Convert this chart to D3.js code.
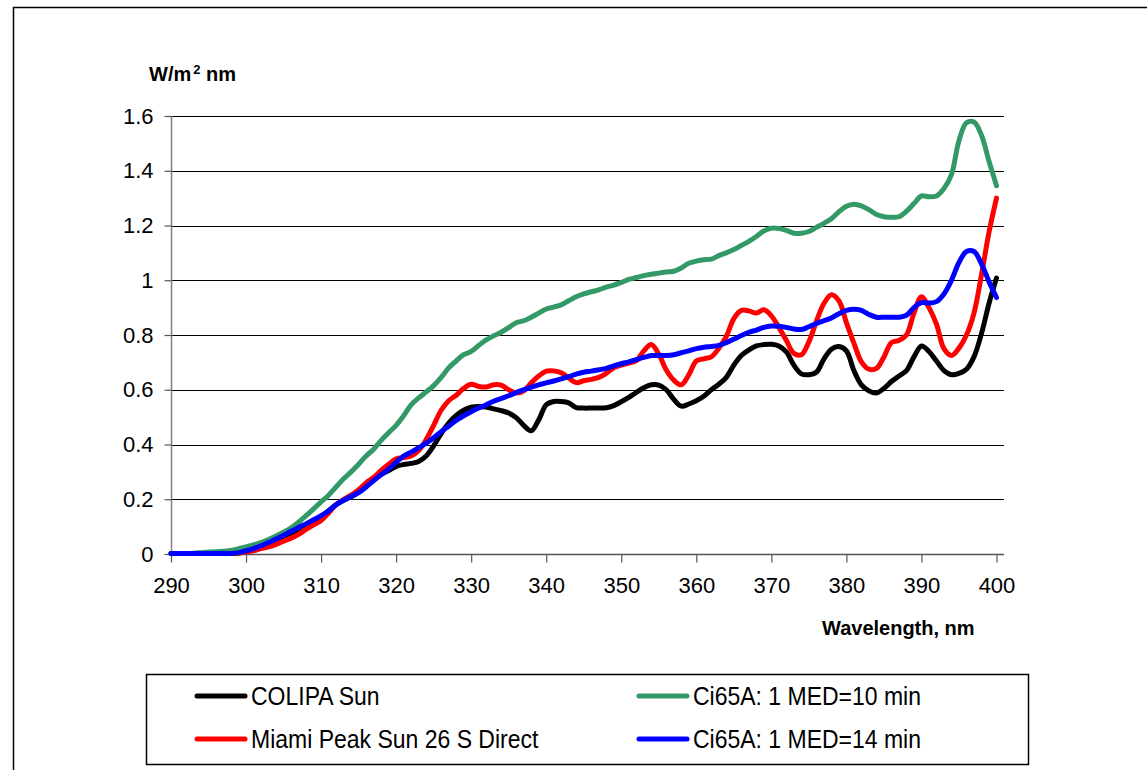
<!DOCTYPE html>
<html>
<head>
<meta charset="utf-8">
<script src="https://cdn.jsdelivr.net/npm/d3@7"></script>
<style>
  html, body { margin: 0; padding: 0; background: #fff; }
  svg { display: block; font-family: "Liberation Sans", Arial, sans-serif; }
</style>
</head>
<body>
<svg id="chart" width="1147" height="770"></svg>
<script>
// ---------- DATA ----------
const wavelengths = [290,291,292,293,294,295,296,297,298,299,300,301,302,303,304,305,306,307,308,309,310,311,312,313,314,315,316,317,318,319,320,321,322,323,324,325,326,327,328,329,330,331,332,333,334,335,336,337,338,339,340,341,342,343,344,345,346,347,348,349,350,351,352,353,354,355,356,357,358,359,360,361,362,363,364,365,366,367,368,369,370,371,372,373,374,375,376,377,378,379,380,381,382,383,384,385,386,387,388,389,390,391,392,393,394,395,396,397,398,399,400];

const colipaSun = [0.002,0.002,0.002,0.002,0.002,0.002,0.002,0.002,0.002,0.004,0.010,0.015,0.022,0.032,0.043,0.055,0.068,0.083,0.100,0.118,0.137,0.158,0.180,0.196,0.210,0.225,0.255,0.272,0.290,0.305,0.320,0.327,0.331,0.338,0.358,0.395,0.440,0.478,0.506,0.525,0.536,0.539,0.537,0.530,0.524,0.515,0.498,0.470,0.450,0.490,0.545,0.557,0.557,0.552,0.535,0.533,0.533,0.533,0.534,0.542,0.556,0.572,0.590,0.607,0.618,0.617,0.600,0.565,0.540,0.548,0.560,0.576,0.600,0.620,0.645,0.690,0.725,0.745,0.760,0.765,0.766,0.760,0.738,0.690,0.658,0.655,0.664,0.712,0.748,0.758,0.742,0.670,0.618,0.596,0.588,0.605,0.630,0.650,0.670,0.720,0.760,0.740,0.705,0.670,0.655,0.660,0.675,0.720,0.805,0.915,1.008];

const miamiPeakSun = [0.002,0.002,0.002,0.002,0.002,0.002,0.002,0.002,0.002,0.004,0.008,0.012,0.020,0.026,0.035,0.047,0.058,0.072,0.090,0.106,0.122,0.150,0.180,0.200,0.215,0.235,0.260,0.280,0.305,0.328,0.348,0.352,0.358,0.378,0.418,0.470,0.525,0.560,0.580,0.605,0.620,0.612,0.610,0.618,0.617,0.600,0.588,0.596,0.625,0.650,0.668,0.669,0.662,0.643,0.626,0.633,0.638,0.645,0.660,0.680,0.690,0.697,0.706,0.742,0.765,0.730,0.672,0.635,0.618,0.655,0.705,0.713,0.720,0.752,0.795,0.860,0.890,0.888,0.880,0.892,0.870,0.828,0.780,0.733,0.728,0.775,0.850,0.915,0.947,0.925,0.845,0.770,0.702,0.675,0.678,0.720,0.772,0.780,0.800,0.880,0.940,0.900,0.840,0.750,0.725,0.752,0.800,0.880,1.020,1.175,1.300];

const ci65a10 = [0.002,0.002,0.002,0.003,0.005,0.007,0.008,0.010,0.013,0.019,0.026,0.033,0.042,0.053,0.066,0.080,0.096,0.116,0.140,0.165,0.190,0.215,0.245,0.275,0.300,0.328,0.358,0.383,0.415,0.443,0.470,0.505,0.545,0.570,0.592,0.615,0.645,0.680,0.705,0.728,0.740,0.762,0.782,0.797,0.810,0.827,0.845,0.852,0.865,0.880,0.895,0.902,0.910,0.925,0.940,0.950,0.958,0.965,0.975,0.982,0.992,1.003,1.010,1.017,1.022,1.026,1.030,1.033,1.045,1.062,1.070,1.075,1.077,1.090,1.100,1.112,1.127,1.142,1.160,1.180,1.190,1.189,1.182,1.172,1.172,1.178,1.193,1.208,1.225,1.250,1.270,1.278,1.272,1.258,1.240,1.232,1.230,1.232,1.252,1.280,1.308,1.305,1.308,1.335,1.386,1.510,1.575,1.578,1.530,1.435,1.345];

const ci65a14 = [0.002,0.002,0.002,0.002,0.002,0.002,0.002,0.002,0.002,0.005,0.012,0.020,0.030,0.042,0.055,0.068,0.083,0.097,0.110,0.125,0.140,0.157,0.180,0.196,0.210,0.224,0.245,0.268,0.290,0.310,0.335,0.358,0.372,0.388,0.405,0.425,0.447,0.467,0.488,0.505,0.520,0.533,0.545,0.558,0.568,0.578,0.590,0.600,0.610,0.618,0.625,0.632,0.640,0.648,0.657,0.664,0.668,0.673,0.678,0.687,0.695,0.702,0.710,0.718,0.725,0.725,0.725,0.728,0.735,0.742,0.750,0.755,0.758,0.762,0.772,0.785,0.798,0.810,0.818,0.828,0.833,0.832,0.828,0.822,0.820,0.830,0.842,0.852,0.862,0.878,0.890,0.894,0.890,0.875,0.865,0.865,0.865,0.865,0.872,0.900,0.918,0.917,0.922,0.950,1.000,1.065,1.105,1.105,1.060,0.995,0.937];

const seriesNames = ["COLIPA Sun", "Miami Peak Sun 26 S Direct", "Ci65A: 1 MED=10 min", "Ci65A: 1 MED=14 min"];
const seriesColors = ["#000000", "#ff0000", "#339966", "#0000ff"];
const xTicks = [290,300,310,320,330,340,350,360,370,380,390,400];
const yTicks = [0,0.2,0.4,0.6,0.8,1,1.2,1.4,1.6];
const yTickLabels = ["0","0.2","0.4","0.6","0.8","1","1.2","1.4","1.6"];

// ---------- CHART ----------
(function () {
const svg = d3.select("#chart");
const pLeft = 171, pRight = 1004, pTop = 116, pBottom = 554;

const x = d3.scaleLinear().domain([290, 401]).range([pLeft, pRight]);
const y = d3.scaleLinear().domain([0, 1.6]).range([pBottom, pTop]);

// outer frame
svg.append("rect").attr("x", 13.5).attr("y", 7.5).attr("width", 1200).attr("height", 800)
  .attr("fill", "none").attr("stroke", "#000").attr("stroke-width", 1.5);

// gridlines
svg.append("g").selectAll("line").data(yTicks.filter(d => d > 0)).join("line")
  .attr("x1", pLeft).attr("x2", pRight)
  .attr("y1", d => Math.round(y(d)) + 0.5).attr("y2", d => Math.round(y(d)) + 0.5)
  .attr("stroke", "#000").attr("stroke-width", 1);

// y axis
const yAxis = d3.axisLeft(y).tickValues(yTicks).tickSize(7).tickPadding(11)
  .tickFormat((d, i) => yTickLabels[i]);
const gy = svg.append("g").attr("transform", `translate(${pLeft + 0.5},0)`).call(yAxis);
gy.select(".domain").attr("stroke", "#808080").attr("stroke-width", 1.5).attr("d", `M0,${pTop}V${pBottom}`);
gy.selectAll(".tick line").attr("stroke", "#555").attr("stroke-width", 1.2);
gy.selectAll(".tick text").attr("font-size", 22).attr("fill", "#000")
  .attr("font-family", "Liberation Sans, Arial, sans-serif");

// x axis
const xAxis = d3.axisBottom(x).tickValues(xTicks).tickSize(8).tickPadding(23).tickFormat(d3.format("d"));
const gx = svg.append("g").attr("transform", `translate(0,${pBottom + 0.5})`).call(xAxis);
gx.select(".domain").attr("stroke", "#555").attr("stroke-width", 1.5).attr("d", `M${pLeft},0H${pRight}`);
gx.selectAll(".tick line").attr("stroke", "#555").attr("stroke-width", 1.2);
gx.selectAll(".tick text").attr("font-size", 22).attr("fill", "#000").attr("dy", "0.35em")
  .attr("font-family", "Liberation Sans, Arial, sans-serif");

// series lines
const allSeries = [colipaSun, miamiPeakSun, ci65a10, ci65a14];
const line = d3.line().x((d, i) => x(wavelengths[i])).y(d => y(d)).curve(d3.curveCatmullRom.alpha(0.5));
svg.append("g").selectAll("path").data([0, 1, 2, 3]).join("path")
  .attr("d", i => line(allSeries[i]))
  .attr("fill", "none")
  .attr("stroke", i => seriesColors[i])
  .attr("stroke-width", 5)
  .attr("stroke-linejoin", "round")
  .attr("stroke-linecap", "round");

// axis titles
const unit = svg.append("text").attr("x", 149).attr("y", 81)
  .attr("font-size", 20).attr("font-weight", "bold").attr("fill", "#000");
unit.append("tspan").text("W/m");
unit.append("tspan").text("2").attr("font-size", 13).attr("dy", -7).attr("dx", 2);
unit.append("tspan").text(" nm").attr("dy", 7);

svg.append("text").attr("x", 822).attr("y", 635)
  .attr("font-size", 20).attr("font-weight", "bold").attr("fill", "#000")
  .text("Wavelength, nm");

// legend
const lg = svg.append("g");
lg.append("rect").attr("x", 146.5).attr("y", 674.5).attr("width", 882).attr("height", 90)
  .attr("fill", "#fff").attr("stroke", "#000").attr("stroke-width", 1.5);
const legendPos = [
  {lx: 197, ty: 696}, {lx: 197, ty: 739}, {lx: 639, ty: 696}, {lx: 639, ty: 739}
];
const items = lg.selectAll("g.item").data(seriesNames).join("g").attr("class", "item");
items.append("line")
  .attr("x1", (d, i) => legendPos[i].lx).attr("x2", (d, i) => legendPos[i].lx + 48)
  .attr("y1", (d, i) => legendPos[i].ty).attr("y2", (d, i) => legendPos[i].ty)
  .attr("stroke", (d, i) => seriesColors[i]).attr("stroke-width", 5).attr("stroke-linecap", "round");
items.append("text")
  .attr("transform", (d, i) => `translate(${legendPos[i].lx + 54},${legendPos[i].ty + 9}) scale(1,1.1)`)
  .attr("font-size", 23).attr("fill", "#000")
  .text(d => d);
})();
</script>
</body>
</html>
